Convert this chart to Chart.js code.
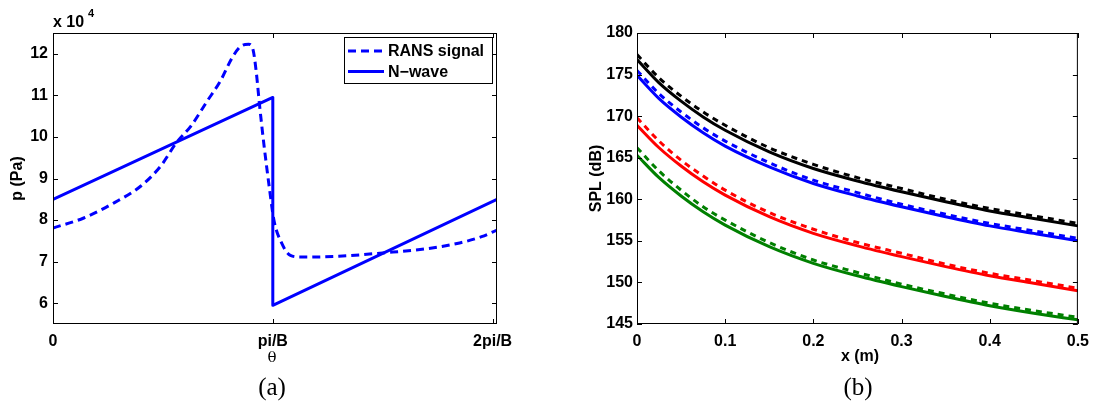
<!DOCTYPE html>
<html>
<head>
<meta charset="utf-8">
<title>p signal and SPL decay</title>
<script src="https://cdn.jsdelivr.net/npm/chart.js@4.4.0/dist/chart.umd.min.js"></script>
<style>
  html, body { margin: 0; padding: 0; background: #fff; }
  #wrap { position: relative; width: 1097px; height: 414px; overflow: hidden; }
  canvas { position: absolute; top: 0; }
  #chartA { left: 0; }
  #chartB { left: 548px; }
  .cap {
    position: absolute;
    top: 373px;
    font-family: "Liberation Serif", "DejaVu Serif", serif;
    font-size: 25px;
    transform: translateX(-50%);
  }
</style>
</head>
<body>
<div id="wrap">
  <canvas id="chartA" width="548" height="414"></canvas>
  <canvas id="chartB" width="549" height="414"></canvas>
  <div class="cap" style="left:272px">(a)</div>
  <div class="cap" style="left:858px">(b)</div>
</div>
<script>
// (a) pressure over one blade passage, theta in units of pi/B, p in Pa
const thetaTicks = [0, 1, 2]
const thetaTickLabels = ["0", "pi/B", "2pi/B"]
const pTicks = [60000, 70000, 80000, 90000, 100000, 110000, 120000]

const ransTheta = [0, 0.14, 0.28, 0.40, 0.49, 0.56, 0.63, 0.70, 0.76, 0.82, 0.86, 0.89, 0.91, 0.925,
  0.94, 0.96, 0.985, 1.005, 1.04, 1.08, 1.13, 1.30, 1.50, 1.70, 1.85, 1.95, 2.02]
const ransP = [78100, 80500, 84200, 88200, 93000, 98500, 102800, 108500, 113300, 119500, 122000,
  122300, 121000, 115500, 107500, 98000, 87500, 80000, 74500, 71500, 71100, 71300, 72100, 73100,
  74500, 76000, 77600]

const nwaveTheta = [0, 1, 1, 2.02]
const nwaveP = [85000, 109500, 59500, 85000]

// (b) SPL decay with distance
const xTicks = [0, 0.1, 0.2, 0.3, 0.4, 0.5]
const splTicks = [145, 150, 155, 160, 165, 170, 175, 180]
const xDist = [0, 0.025, 0.05, 0.075, 0.1, 0.15, 0.2, 0.25, 0.3, 0.35, 0.4, 0.45, 0.5]

const splBlack = [176.8, 174.0, 171.8, 169.9, 168.3, 165.7, 163.7, 162.2, 160.9, 159.7, 158.6, 157.7, 156.8]
const splBlackRans = [177.4, 174.6, 172.4, 170.5, 168.9, 166.2, 164.2, 162.6, 161.3, 160.0, 158.9, 158.0, 157.1]
const splBlue = [174.9, 172.1, 169.9, 168.0, 166.4, 163.9, 161.9, 160.4, 159.1, 157.9, 156.8, 155.9, 155.0]
const splBlueRans = [175.5, 172.7, 170.5, 168.6, 167.0, 164.4, 162.3, 160.8, 159.4, 158.2, 157.1, 156.2, 155.3]
const splRed = [168.9, 166.2, 164.0, 162.1, 160.5, 157.9, 155.9, 154.4, 153.1, 151.9, 150.8, 149.9, 149.0]
const splRedRans = [169.8, 167.0, 164.7, 162.8, 161.1, 158.4, 156.4, 154.8, 153.5, 152.2, 151.1, 150.2, 149.3]
const splGreen = [165.3, 162.6, 160.4, 158.5, 156.9, 154.3, 152.3, 150.8, 149.5, 148.3, 147.2, 146.3, 145.5]
const splGreenRans = [166.2, 163.4, 161.1, 159.1, 157.5, 154.8, 152.7, 151.2, 149.8, 148.6, 147.5, 146.6, 145.8]

const FONT = "'Liberation Sans', Arial, sans-serif"
const BLUE = "#0000ff"
const RED = "#ff0000"
const GREEN = "#008000"
const BLACK = "#000000"
const DASH_A = [8, 5]
const DASH_B = [6, 5]

function pts(xs, ys) {
  return xs.map((x, i) => ({ x: x, y: ys[i] }))
}

function fixedTicks(values) {
  return (scale) => { scale.ticks = values.map((v) => ({ value: v })) }
}

// box round the plot with inward ticks on all four sides, plus axis titles
const matlabBox = {
  id: "matlabBox",
  afterDraw(chart, args, opts) {
    const { ctx, chartArea: a, scales } = chart
    const tl = 5
    ctx.save()
    ctx.strokeStyle = "#000"
    ctx.lineWidth = 1
    ctx.setLineDash([])
    ctx.strokeRect(a.left + 0.5, a.top + 0.5, a.right - a.left - 1, a.bottom - a.top - 1)
    ctx.beginPath()
    scales.x.ticks.forEach((t) => {
      const px = Math.round(scales.x.getPixelForValue(t.value)) + 0.5
      ctx.moveTo(px, a.bottom); ctx.lineTo(px, a.bottom - tl)
      ctx.moveTo(px, a.top); ctx.lineTo(px, a.top + tl)
    })
    scales.y.ticks.forEach((t) => {
      const py = Math.round(scales.y.getPixelForValue(t.value)) + 0.5
      ctx.moveTo(a.left, py); ctx.lineTo(a.left + tl, py)
      ctx.moveTo(a.right, py); ctx.lineTo(a.right - tl, py)
    })
    ctx.stroke()

    ctx.fillStyle = "#000"
    ctx.textAlign = "center"
    ctx.textBaseline = "middle"
    ctx.font = opts.xTitleFont
    ctx.fillText(opts.xTitle, opts.xTitleX, opts.xTitleY)

    ctx.font = "bold 16px " + FONT
    ctx.translate(opts.yTitleX, (a.top + a.bottom) / 2)
    ctx.rotate(-Math.PI / 2)
    ctx.fillText(opts.yTitle, 0, 0)
    ctx.restore()
  },
}

// legend box and the "x 10^4" exponent of panel (a)
const panelAExtras = {
  id: "panelAExtras",
  afterDraw(chart) {
    const ctx = chart.ctx
    ctx.save()
    ctx.fillStyle = "#000"
    ctx.textBaseline = "alphabetic"
    ctx.textAlign = "left"
    ctx.font = "bold 16px " + FONT
    ctx.fillText("x 10", 53, 27)
    ctx.font = "bold 11px " + FONT
    ctx.fillText("4", 88, 17)

    const bx = 344.5, by = 37.5, bw = 148, bh = 46
    ctx.fillStyle = "#fff"
    ctx.fillRect(bx, by, bw, bh)
    ctx.strokeStyle = "#000"
    ctx.lineWidth = 1
    ctx.strokeRect(bx, by, bw, bh)

    const rows = [
      { label: "RANS signal", dash: DASH_A, y: 51 },
      { label: "N\u2212wave", dash: [], y: 71.5 },
    ]
    rows.forEach((r) => {
      ctx.strokeStyle = BLUE
      ctx.lineWidth = 3
      ctx.lineCap = "butt"
      ctx.setLineDash(r.dash)
      ctx.beginPath()
      ctx.moveTo(348, r.y)
      ctx.lineTo(384, r.y)
      ctx.stroke()
      ctx.setLineDash([])
      ctx.fillStyle = "#000"
      ctx.font = "bold 16px " + FONT
      ctx.textBaseline = "middle"
      ctx.fillText(r.label, 388, r.y + 1)
    })
    ctx.restore()
  },
}

function baseOptions(padRight, yAxisWidth) {
  return {
    responsive: false,
    animation: false,
    events: [],
    layout: { padding: { left: 0, right: padRight, top: 33, bottom: 0 } },
    plugins: { legend: { display: false }, tooltip: { enabled: false } },
    elements: { point: { radius: 0 }, line: { borderCapStyle: "butt", borderJoinStyle: "round" } },
    scales: {
      x: {
        type: "linear",
        grid: { display: false, drawTicks: false },
        border: { display: false },
        afterFit: (s) => { s.height = 90 },
        ticks: { color: "#000", padding: 8, maxRotation: 0, autoSkip: false, font: { family: FONT, size: 16, weight: "bold" } },
      },
      y: {
        type: "linear",
        grid: { display: false, drawTicks: false },
        border: { display: false },
        afterFit: (s) => { s.width = yAxisWidth },
        ticks: { color: "#000", padding: 5, autoSkip: false, font: { family: FONT, size: 16, weight: "bold" } },
      },
    },
  }
}

// panel (a)
const optsA = baseOptions(51, 53)
optsA.scales.x.min = 0
optsA.scales.x.max = 2.02
optsA.scales.x.afterBuildTicks = fixedTicks(thetaTicks)
optsA.scales.x.ticks.callback = (v) => thetaTickLabels[thetaTicks.indexOf(v)]
optsA.scales.y.min = 55000
optsA.scales.y.max = 125000
optsA.scales.y.afterBuildTicks = fixedTicks(pTicks)
optsA.scales.y.ticks.callback = (v) => String(v / 10000)
optsA.plugins.matlabBox = {
  xTitle: "\u03b8", xTitleFont: "15px 'DejaVu Serif', serif", xTitleX: 272, xTitleY: 358,
  yTitle: "p (Pa)", yTitleX: 18,
}

new Chart(document.getElementById("chartA"), {
  type: "line",
  data: {
    datasets: [
      {
        label: "RANS signal",
        data: pts(ransTheta, ransP),
        borderColor: BLUE,
        borderWidth: 3,
        borderDash: DASH_A,
        cubicInterpolationMode: "monotone",
        order: 0,
      },
      {
        label: "N-wave",
        data: pts(nwaveTheta, nwaveP),
        borderColor: BLUE,
        borderWidth: 3,
        tension: 0,
        order: 1,
      },
    ],
  },
  options: optsA,
  plugins: [matlabBox, panelAExtras],
})

// panel (b)
const optsB = baseOptions(14, 89)
optsB.scales.x.min = 0
optsB.scales.x.max = 0.5
optsB.scales.x.afterBuildTicks = fixedTicks(xTicks)
optsB.scales.x.ticks.callback = (v) => (v === 0 ? "0" : v.toFixed(1))
optsB.scales.y.min = 145
optsB.scales.y.max = 180
optsB.scales.y.afterBuildTicks = fixedTicks(splTicks)
optsB.scales.y.ticks.callback = (v) => String(v)
optsB.scales.y.ticks.padding = 4
optsB.plugins.matlabBox = {
  xTitle: "x (m)", xTitleFont: "bold 16px " + FONT, xTitleX: 312, xTitleY: 357,
  yTitle: "SPL (dB)", yTitleX: 49,
}

const seriesB = [
  { data: splBlackRans, color: BLACK, dashed: true },
  { data: splBlueRans, color: BLUE, dashed: true },
  { data: splRedRans, color: RED, dashed: true },
  { data: splGreenRans, color: GREEN, dashed: true },
  { data: splBlack, color: BLACK, dashed: false },
  { data: splBlue, color: BLUE, dashed: false },
  { data: splRed, color: RED, dashed: false },
  { data: splGreen, color: GREEN, dashed: false },
]

new Chart(document.getElementById("chartB"), {
  type: "line",
  data: {
    datasets: seriesB.map((s) => ({
      data: pts(xDist, s.data),
      borderColor: s.color,
      borderWidth: 3,
      borderDash: s.dashed ? DASH_B : [],
      cubicInterpolationMode: "monotone",
      order: s.dashed ? 0 : 1,
    })),
  },
  options: optsB,
  plugins: [matlabBox],
})
</script>
</body>
</html>
